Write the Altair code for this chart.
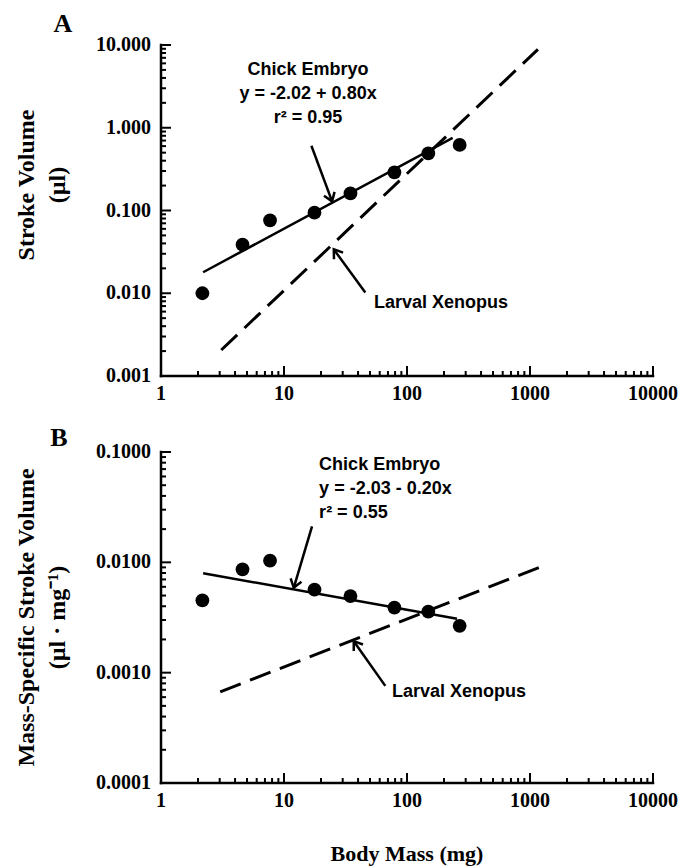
import math
import altair as alt
import pandas as pd

# ---- measurements -------------------------------------------------------
# chick embryo body mass (mg)
body_mass = [2.17, 4.6, 7.7, 17.7, 34.7, 79.0, 149.0, 268.0]
# stroke volume (µl)
stroke_volume = [0.0100, 0.0386, 0.076, 0.094, 0.161, 0.289, 0.49, 0.62]
# mass-specific stroke volume (µl · mg-1)
mass_specific_sv = [0.00453, 0.00865, 0.01035, 0.00566, 0.00495, 0.00389, 0.00358, 0.00266]

# chick embryo log-log regressions: log y = a + b log x, drawn over a mass range
sv_fit = {"a": -2.02, "b": 0.80, "r2": 0.95, "mass": [2.2, 235.0]}
ms_fit = {"a": -2.03, "b": -0.20, "r2": 0.55, "mass": [2.2, 255.0]}

# larval Xenopus allometric lines (end points: mass, value)
xenopus_sv_mass = [3.09, 1160.0]
xenopus_sv = [0.00206, 8.87]
xenopus_ms_mass = [3.03, 1213.0]
xenopus_ms = [0.00067, 0.00908]

# annotation anchors (mass, value of the first text line) and arrows
# (from mass, from value, to mass, to value)
sv_note_at = [15.7, 5.0]
sv_xen_note_at = [53.9, 0.00759]
sv_arrows = [(16.7, 0.606, 24.6, 0.129), (45.8, 0.0102, 25.4, 0.0339)]
ms_note_at = [19.3, 0.0763]
ms_xen_note_at = [75.5, 0.000665]
ms_arrows = [(16.9, 0.0212, 12.0, 0.00588), (66.6, 0.000759, 36.9, 0.00193)]

x_exponents = (0, 4)
W, H = 492, 331
SERIF = "Liberation Serif, Times New Roman, serif"
SANS = "Liberation Sans, Arial, sans-serif"
CHEVRON = "M -1 -0.7 L 0 0 L -1 0.7"
MAJOR_LEN, MINOR_LEN = 10, 5   # inward tick lengths, px


def decade_ticks(lo, hi):
    major = [10.0 ** k for k in range(lo, hi + 1)]
    minor = [m * 10.0 ** k for k in range(lo, hi) for m in range(2, 10)]
    return major, minor


def equation(fit):
    sign = "+" if fit["b"] >= 0 else "-"
    return ["Chick Embryo", f"y = {fit['a']:.2f} {sign} {abs(fit['b']):.2f}x", f"r\u00b2 = {fit['r2']:.2f}"]


def panel(letter, letter_xy, values, y_exp, y_fmt, y_title, title_y, fit, xen_m, xen_v,
          note_at, note_align, xen_note_at, arrows, x_title):
    x_lo, x_hi = 10.0 ** x_exponents[0], 10.0 ** x_exponents[1]
    y_lo, y_hi = 10.0 ** y_exp[0], 10.0 ** y_exp[1]
    xs = alt.Scale(type="log", domain=[x_lo, x_hi], nice=False)
    ys = alt.Scale(type="log", domain=[y_lo, y_hi], nice=False)
    x_major, x_minor = decade_ticks(*x_exponents)
    y_major, y_minor = decade_ticks(*y_exp)
    px_x = W / (x_exponents[1] - x_exponents[0])   # px per decade
    px_y = H / (y_exp[1] - y_exp[0])

    # the frame (axis lines, ticks, labels) is drawn with marks on the shared log scales
    X = lambda f: alt.X(f, type="quantitative", scale=xs, axis=None)
    Y = lambda f: alt.Y(f, type="quantitative", scale=ys, axis=None)

    def xticks(vals, length):
        return alt.Chart(pd.DataFrame({"t": vals})).mark_rule(color="black", strokeWidth=2).encode(
            x=X("t"), y=alt.value(H), y2=alt.value(H - length))

    def yticks(vals, length):
        return alt.Chart(pd.DataFrame({"t": vals})).mark_rule(color="black", strokeWidth=2).encode(
            y=Y("t"), x=alt.value(0), x2=alt.value(length))

    frame_df = pd.DataFrame({"mass": [x_lo, x_lo], "value": [y_lo, y_lo],
                             "m2": [x_hi, x_lo], "v2": [y_lo, y_hi]})
    frame = alt.Chart(frame_df).mark_rule(color="black", strokeWidth=2.5, strokeCap="square").encode(
        x=X("mass"), y=Y("value"), x2="m2", y2="v2")

    x_labels = alt.Chart(pd.DataFrame({"mass": x_major, "value": y_lo,
                                       "label": [f"{v:.0f}" for v in x_major]})).mark_text(
        font=SERIF, fontSize=20, fontWeight="bold", color="black", align="center", baseline="top", dy=8
    ).encode(x=X("mass"), y=Y("value"), text="label:N")
    y_labels = alt.Chart(pd.DataFrame({"value": y_major, "mass": x_lo,
                                       "label": [format(v, y_fmt) for v in y_major]})).mark_text(
        font=SERIF, fontSize=20, fontWeight="bold", color="black", align="right", baseline="middle", dx=-10
    ).encode(x=X("mass"), y=Y("value"), text="label:N")

    pts = alt.Chart(pd.DataFrame({"mass": body_mass, "value": values})).mark_circle(
        size=190, color="black", opacity=1
    ).encode(x=X("mass"), y=Y("value"))

    fit_df = pd.DataFrame({"mass": fit["mass"],
                           "value": [10 ** (fit["a"] + fit["b"] * math.log10(m)) for m in fit["mass"]]})
    fit_line = alt.Chart(fit_df).mark_line(color="black", strokeWidth=2.5).encode(x=X("mass"), y=Y("value"))

    xen_line = alt.Chart(pd.DataFrame({"mass": xen_m, "value": xen_v})).mark_line(
        color="black", strokeWidth=3, strokeDash=[22, 10]
    ).encode(x=X("mass"), y=Y("value"))

    rows = []
    for m0, v0, m1, v1 in arrows:
        dx = (math.log10(m1) - math.log10(m0)) * px_x
        dy = -(math.log10(v1) - math.log10(v0)) * px_y
        rows.append({"mass": m0, "value": v0, "m1": m1, "v1": v1,
                     "angle": math.degrees(math.atan2(dy, dx)) % 360})
    arrow_df = pd.DataFrame(rows)
    shafts = alt.Chart(arrow_df).mark_rule(color="black", strokeWidth=2.5).encode(
        x=X("mass"), y=Y("value"), x2="m1", y2="v1")
    heads = alt.Chart(arrow_df).mark_point(
        shape=CHEVRON, filled=False, size=260, color="black", strokeWidth=2.5, opacity=1
    ).encode(x=X("m1"), y=Y("v1"), angle=alt.Angle("angle:Q", scale=None))

    note = alt.Chart(pd.DataFrame({"mass": [note_at[0]], "value": [note_at[1]]})).mark_text(
        text=equation(fit), font=SANS, fontSize=18, fontWeight="bold", color="black",
        align=note_align, baseline="middle", lineHeight=24
    ).encode(x=X("mass"), y=Y("value"))
    xen_note = alt.Chart(pd.DataFrame({"mass": [xen_note_at[0]], "value": [xen_note_at[1]]})).mark_text(
        text="Larval Xenopus", font=SANS, fontSize=18, fontWeight="bold", color="black",
        align="left", baseline="middle"
    ).encode(x=X("mass"), y=Y("value"))

    tag = alt.Chart(pd.DataFrame({"t": [letter]})).mark_text(
        font=SERIF, fontSize=26, fontWeight="bold", color="black", align="center", baseline="middle"
    ).encode(x=alt.value(letter_xy[0]), y=alt.value(letter_xy[1]), text="t:N")

    # two-line rotated y title
    titles = []
    for line, xoff in zip(y_title, (-134, -103)):
        titles.append(
            alt.Chart(pd.DataFrame({"t": [line]})).mark_text(
                font=SERIF, fontSize=24, fontWeight="bold", color="black", angle=270,
                align="center", baseline="middle"
            ).encode(x=alt.value(xoff), y=alt.value(title_y), text="t:N")
        )
    if x_title:
        titles.append(
            alt.Chart(pd.DataFrame({"t": [x_title]})).mark_text(
                font=SERIF, fontSize=22, fontWeight="bold", color="black",
                align="center", baseline="middle"
            ).encode(x=alt.value(W / 2), y=alt.value(H + 71), text="t:N")
        )

    return alt.layer(
        xticks(x_minor, MINOR_LEN), xticks(x_major, MAJOR_LEN),
        yticks(y_minor, MINOR_LEN), yticks(y_major, MAJOR_LEN),
        frame, x_labels, y_labels,
        fit_line, xen_line, shafts, heads, pts, note, xen_note, tag, *titles
    ).properties(width=W, height=H)


top = panel("A", (-98, -21), stroke_volume, (-3, 1), ".3f", ["Stroke Volume", "(\u00b5l)"], 140,
            sv_fit, xenopus_sv_mass, xenopus_sv, sv_note_at, "center", sv_xen_note_at, sv_arrows, None)
bottom = panel("B", (-102, -14), mass_specific_sv, (-4, -1), ".4f",
               ["Mass-Specific Stroke Volume", "(\u00b5l \u00b7 mg\u207b\u00b9)"], H / 2,
               ms_fit, xenopus_ms_mass, xenopus_ms, ms_note_at, "left", ms_xen_note_at, ms_arrows,
               "Body Mass (mg)")

chart = alt.vconcat(top, bottom, spacing=21).properties(
    padding={"left": 15, "top": 11, "right": 5, "bottom": 5},
    background="white",
).configure_view(stroke=None)

chart.save("out.html", embed_options={"renderer": "svg", "actions": False})
